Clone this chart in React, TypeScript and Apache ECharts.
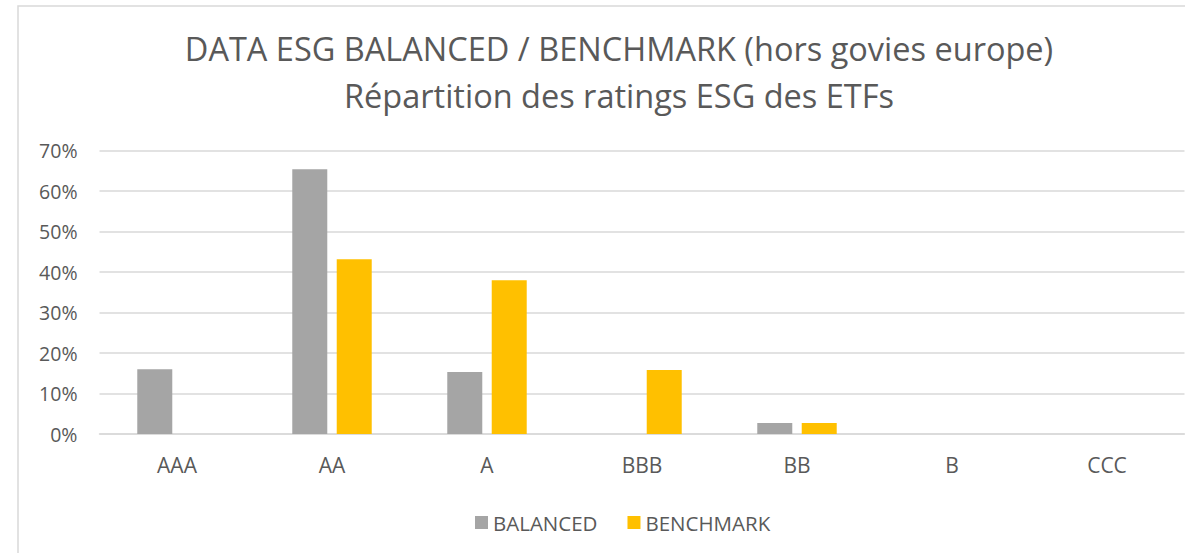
import React, { useEffect, useRef } from "react";
import * as echarts from "echarts";

const categories = ["AAA", "AA", "A", "BBB", "BB", "B", "CCC"];
const balanced = [0.16, 0.654, 0.153, 0, 0.027, 0, 0];
const benchmark = [0, 0.432, 0.38, 0.158, 0.027, 0, 0];
const seriesNames = ["BALANCED", "BENCHMARK"];
const titleLines = [
  "DATA ESG BALANCED / BENCHMARK (hors govies europe)",
  "Répartition des ratings ESG des ETFs",
];

const FONT = "'Open Sans', sans-serif";
const TEXT = "#595959";

export default function App() {
  const ref = useRef<HTMLDivElement>(null);
  useEffect(() => {
    if (!ref.current) return;
    const chart = echarts.init(ref.current, undefined, { renderer: "svg" });
    chart.setOption({
      animation: false,
      backgroundColor: "#ffffff",
      textStyle: { fontFamily: FONT },
      graphic: [
        {
          type: "rect",
          shape: { x: 18, y: 6, width: 1300, height: 700 },
          style: { fill: "none", stroke: "#d9d9d9", lineWidth: 1.5 },
          silent: true,
        },
      ],
      title: {
        text: titleLines.join("\n"),
        left: 614,
        textAlign: "center",
        top: 20,
        textStyle: {
          fontFamily: FONT,
          fontSize: 32.5,
          fontWeight: "normal",
          color: TEXT,
          lineHeight: 47,
        },
      },
      legend: {
        data: seriesNames,
        left: 470,
        top: 507,
        itemWidth: 13,
        itemHeight: 13,
        itemGap: 30,
        icon: "rect",
        textStyle: { fontFamily: FONT, fontSize: 20.5, color: TEXT },
      },
      grid: { left: 99.5, right: 0.5, top: 150.7, bottom: 119 },
      xAxis: {
        type: "category",
        data: categories,
        axisLine: { lineStyle: { color: "#d9d9d9", width: 1.5 } },
        axisTick: { show: false },
        axisLabel: { fontFamily: FONT, fontSize: 21, color: TEXT, margin: 20 },
      },
      yAxis: {
        type: "value",
        min: 0,
        max: 0.7,
        interval: 0.1,
        axisLine: { show: false },
        axisTick: { show: false },
        splitLine: { lineStyle: { color: "#d9d9d9", width: 1.5 } },
        axisLabel: {
          fontFamily: FONT,
          fontSize: 19.5,
          color: TEXT,
          margin: 22,
          formatter: (v: number) => Math.round(v * 100) + "%",
        },
      },
      series: [
        {
          name: seriesNames[0],
          type: "bar",
          data: balanced,
          barWidth: 35,
          barGap: "27%",
          itemStyle: { color: "#A5A5A5" },
        },
        {
          name: seriesNames[1],
          type: "bar",
          data: benchmark,
          barWidth: 35,
          itemStyle: { color: "#FFC000" },
        },
      ],
    });
    return () => chart.dispose();
  }, []);
  return (
    <div
      ref={ref}
      style={{ position: "absolute", left: 0, top: 0, width: 1185, height: 553 }}
    />
  );
}
